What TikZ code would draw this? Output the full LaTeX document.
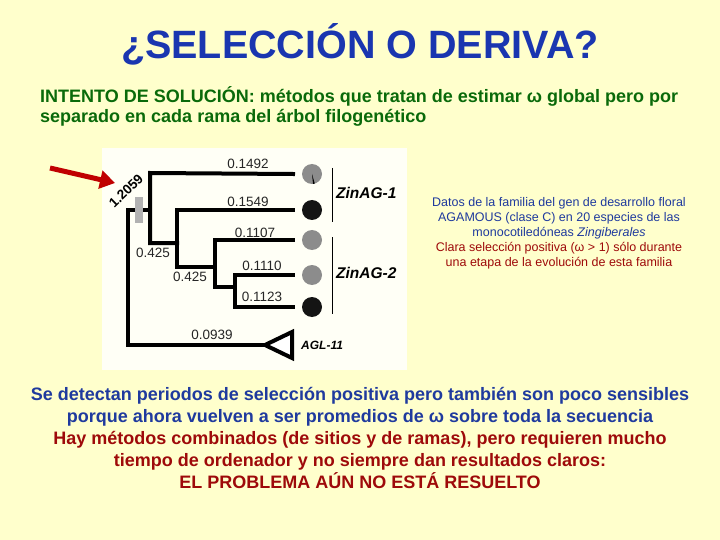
\documentclass[tikz,border=0pt]{standalone}
\usepackage{fontspec}
\setmainfont{Liberation Sans}
\usetikzlibrary{arrows.meta}
\definecolor{slidebg}{HTML}{FFFFCC}
\definecolor{panelbg}{HTML}{FFFFF6}
\definecolor{titleblue}{HTML}{1A36B0}
\definecolor{textblue}{HTML}{1F3A9E}
\definecolor{textgreen}{HTML}{0A6A0A}
\definecolor{textred}{HTML}{9E0A0A}
\definecolor{arrowred}{HTML}{C00000}
\definecolor{leafgray}{HTML}{8C8C8C}
\tikzset{
  branch/.style={line width=4pt, line cap=rect},
  leaf/.style={circle, minimum size=20pt, inner sep=0pt},
  blen/.style={font=\fontsize{13.5}{14}\selectfont, text=black!85, inner sep=0pt},
  clade/.style={font=\fontsize{15.5}{16}\selectfont\bfseries\itshape, anchor=west, inner sep=0pt},
}
\begin{document}
\begin{tikzpicture}[x=1pt, y=-1pt]
  \fill[slidebg] (0,0) rectangle (720,540);
  \useasboundingbox (0,0) rectangle (720,540);
  \node[text=titleblue, font=\fontsize{39.5}{42}\selectfont\bfseries] (title) at (360,44) {¿SELECCIÓN O DERIVA?};
  \node[anchor=north west, align=left, text=textgreen, inner sep=0pt,
        font=\fontsize{18}{20}\selectfont\bfseries] (intro) at (40,86)
    {INTENTO DE SOLUCIÓN: métodos que tratan de estimar ω global pero por\\
     separado en cada rama del árbol filogenético};
  \fill[panelbg] (102,148) rectangle (407,370);
  \coordinate (na1) at (150,173);
  \coordinate (na2) at (150,243);
  \coordinate (nb1) at (177,210);
  \coordinate (nb2) at (177,267);
  \coordinate (nc1) at (215,240);
  \coordinate (nc2) at (215,287);
  \coordinate (nd1) at (235,275);
  \coordinate (nd2) at (235,307);
  \coordinate (rt) at (128,210);
  \coordinate (rb) at (128,345);
  \coordinate (tip) at (265,345);
  \node[leaf, fill=leafgray] (l1) at (312,174) {};
  \node[leaf, fill=black!92] (l2) at (312,210) {};
  \node[leaf, fill=leafgray] (l3) at (312,240) {};
  \node[leaf, fill=leafgray] (l4) at (312,275) {};
  \node[leaf, fill=black!92] (l5) at (312,307) {};
  \fill[black] (l1.center) -- ++(74:10) arc (74:84:10) -- cycle;
  \begin{scope}[branch]
    \draw (l1.center -| 293,0) -- (na1) -- (na2) -- (na2 -| nb1);
    \draw (l2.center -| 293,0) -- (nb1) -- (nb2) -- (nb2 -| nc1);
    \draw (l3.center -| 293,0) -- (nc1) -- (nc2) -- (nc2 -| nd1);
    \draw (l4.center -| 293,0) -- (nd1) -- (nd2) -- (l5.center -| 293,0);
    \draw (rt -| na1) -- (rt) -- (rb) -- (tip);
    \draw[line join=miter, fill=white] (tip) -- (292,332) -- (292,358) -- cycle;
  \end{scope}
  \fill[black!30] (135,197) rectangle (143,223);
  \node[font=\fontsize{13.5}{14}\selectfont\bfseries, rotate=44, inner sep=0pt] (omega0) at (126,191) {1.2059};
  \draw[arrowred, line width=5pt, -{Triangle[length=15pt, width=18pt]}] (50,168) -- (115,183);
  \node[blen] (b1) at (248,164) {0.1492};
  \node[blen] (b2) at (248,202) {0.1549};
  \node[blen] (b3) at (255,233) {0.1107};
  \node[blen] (b4) at (262,266) {0.1110};
  \node[blen] (b5) at (262,297) {0.1123};
  \node[blen] (b6) at (153,253) {0.425};
  \node[blen] (b7) at (190,277) {0.425};
  \node[blen] (b8) at (212,335) {0.0939};
  \draw[line width=1pt] (332,168) -- (332,222);
  \draw[line width=1pt] (332,237) -- (332,314);
  \node[clade] (zin1) at (336,193) {ZinAG-1};
  \node[clade] (zin2) at (336,273) {ZinAG-2};
  \node[clade, font=\fontsize{12}{13}\selectfont\bfseries\itshape] (agl) at (301,345) {AGL-11};
  \node[align=center, inner sep=0pt, font=\fontsize{12.5}{15}\selectfont] (data) at (559,233)
    {\color{textblue}Datos de la familia del gen de desarrollo floral\\
     \color{textblue}AGAMOUS (clase C) en 20 especies de las\\
     \color{textblue}monocotiledóneas \textit{Zingiberales}\\
     \color{textred}Clara selección positiva (ω > 1) sólo durante\\
     \color{textred}una etapa de la evolución de esta familia};
  \node[align=center, inner sep=0pt, font=\fontsize{18}{21.8}\selectfont\bfseries] (concl) at (360,438)
    {\color{textblue}Se detectan periodos de selección positiva pero también son poco sensibles\\
     \color{textblue}porque ahora vuelven a ser promedios de ω sobre toda la secuencia\\
     \color{textred}Hay métodos combinados (de sitios y de ramas), pero requieren mucho\\
     \color{textred}tiempo de ordenador y no siempre dan resultados claros:\\
     \color{textred}EL PROBLEMA AÚN NO ESTÁ RESUELTO};
\end{tikzpicture}
\end{document}
